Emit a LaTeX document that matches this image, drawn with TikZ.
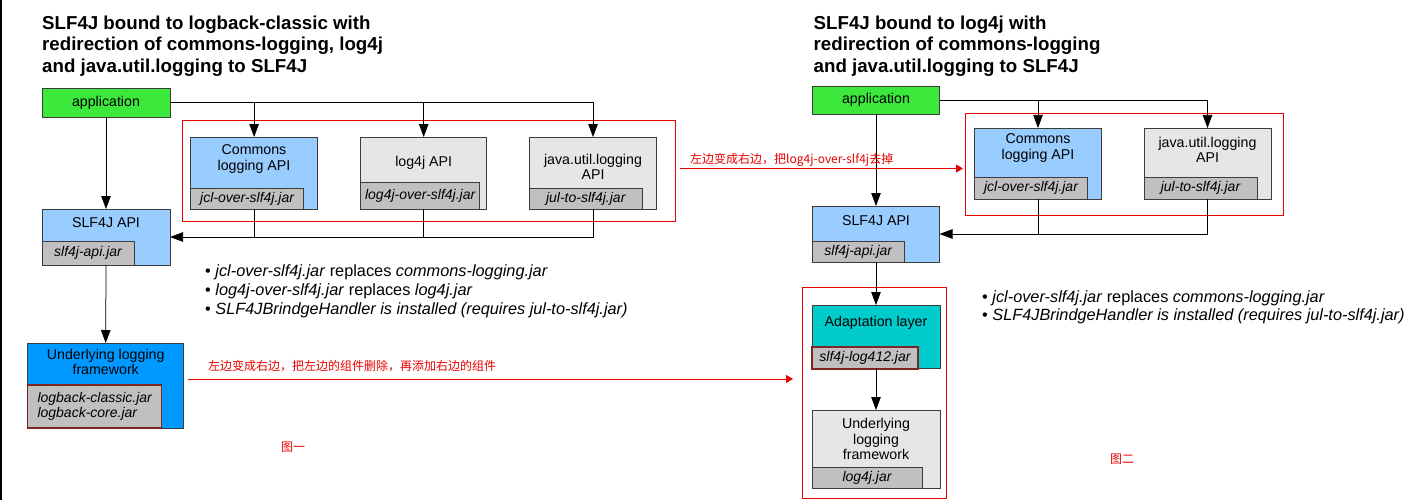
\documentclass[tikz,border=0pt]{standalone}
\usepackage{fontspec}
\setmainfont{Liberation Sans}
\newfontfamily\cjk{Noto Sans CJK SC}
\usetikzlibrary{arrows.meta}
\definecolor{appgreen}{RGB}{60,232,60}
\definecolor{lblue}{RGB}{153,204,255}
\definecolor{lgray}{RGB}{230,230,230}
\definecolor{jargray}{RGB}{192,192,192}
\definecolor{dblue}{RGB}{0,153,255}
\definecolor{adcyan}{RGB}{0,204,204}
\definecolor{edgegray}{RGB}{60,60,60}
\definecolor{jarred}{RGB}{128,36,36}
\definecolor{notered}{RGB}{235,0,0}
\begin{document}
\begin{tikzpicture}[x=1pt,y=-1pt,
  box/.style={draw=edgegray, line width=0.9pt, anchor=north west, inner sep=0pt, outer sep=0pt},
  jar/.style={box, fill=jargray, font=\fontsize{14}{15.5}\selectfont\itshape},
  redjar/.style={jar, draw=jarred, line width=1.4pt},
  lbl/.style={font=\fontsize{14.2}{15.5}\selectfont, align=center, inner sep=0pt},
  ttl/.style={font=\fontsize{18.7}{21}\selectfont\bfseries, anchor=base west, inner sep=0pt},
  bul/.style={font=\fontsize{16.3}{19}\selectfont, anchor=base west, inner sep=0pt},
  note/.style={font=\fontsize{12}{14}\selectfont\cjk, text=notered, inner sep=0pt},
  arr/.style={-{Triangle[length=13pt,width=9.5pt]}, line width=0.75pt},
  ln/.style={line width=0.75pt},
  redarr/.style={draw=notered, line width=0.9pt, -{Triangle[length=7pt,width=8pt]}},
  frame/.style={draw=notered, line width=1pt}
]
\fill[white] (0,0) rectangle (1404,500);
\useasboundingbox (0,0) rectangle (1404,500);
\draw[line width=1.6pt] (0.8,0) -- (0.8,500);

% ---------------- left diagram ----------------
\node[ttl] (t1a) at (42,29.5) {SLF4J bound to logback-classic with};
\node[ttl] (t1b) at (42,51) {redirection of commons-logging, log4j};
\node[ttl] (t1c) at (42,72.5) {and java.util.logging to SLF4J};

\draw[frame] (182.6,120.5) rectangle (675.4,221);

\node[box, fill=appgreen, minimum width=128pt, minimum height=29pt, lbl] (app1) at (42,88) {application};

\node[box, fill=lblue, minimum width=127pt, minimum height=72pt] (c1) at (190.6,137) {};
\node[lbl] (c1t) at (254,159) {Commons\\logging API};
\node[jar, minimum width=113pt, minimum height=21pt] (c1j) at (190.6,188) {jcl-over-slf4j.jar};

\node[box, fill=lgray, minimum width=126pt, minimum height=72pt] (l1) at (360.7,137) {};
\node[lbl] (l1t) at (423.7,163) {log4j API};
\node[jar, minimum width=119pt, minimum height=27pt] (l1j) at (360.7,182) {log4j-over-slf4j.jar};

\node[box, fill=lgray, minimum width=127pt, minimum height=72pt] (j1) at (529.5,137) {};
\node[lbl] (j1t) at (593,167) {java.util.logging\\API};
\node[jar, minimum width=112.5pt, minimum height=21pt] (j1j) at (529.5,188) {jul-to-slf4j.jar};

\node[box, fill=lblue, minimum width=128pt, minimum height=56pt] (s1) at (42,209) {};
\node[lbl] (s1t) at (106,223) {SLF4J API};
\node[jar, minimum width=92pt, minimum height=24pt] (s1j) at (42,241) {slf4j-api.jar};

\node[box, fill=dblue, minimum width=156pt, minimum height=85pt] (u1) at (27.7,343) {};
\node[lbl] (u1t) at (105.7,362) {Underlying logging\\framework};
\node[redjar, minimum width=134pt, minimum height=43pt, align=left] (u1j) at (27.7,385) {logback-classic.jar\\logback-core.jar};

\draw[ln] (app1.east) -- (app1.east -| j1.north);
\draw[arr] (app1.east -| c1.north) -- (c1.north);
\draw[arr] (app1.east -| l1.north) -- (l1.north);
\draw[arr] (app1.east -| j1.north) -- (j1.north);
\draw[arr] (app1.south) -- (s1.north);
\draw[ln] (c1.south) -- (c1.south |- s1.east);
\draw[ln] (l1.south) -- (l1.south |- s1.east);
\draw[arr] (j1.south) -- (j1.south |- s1.east) -- (s1.east);
\draw[arr] (s1.south) -- (u1.north);

\node[bul] (b1) at (205,276.5) {• \textit{jcl-over-slf4j.jar} replaces \textit{commons-logging.jar}};
\node[bul] (b2) at (205,295.5) {• \textit{log4j-over-slf4j.jar} replaces \textit{log4j.jar}};
\node[bul] (b3) at (205,314.5) {• \textit{SLF4JBrindgeHandler is installed (requires jul-to-slf4j.jar)}};

\node[note, anchor=west] (n1) at (208,366) {左边变成右边，把左边的组件删除，再添加右边的组件};
\node[note] (fig1) at (293,447) {图一};

% ---------------- right diagram ----------------
\node[ttl] (t2a) at (813.5,29.5) {SLF4J bound to log4j with};
\node[ttl] (t2b) at (813.5,51) {redirection of commons-logging};
\node[ttl] (t2c) at (813.5,72.5) {and java.util.logging to SLF4J};

\draw[frame] (965,113.3) rectangle (1283,215);
\draw[frame] (802,287.5) rectangle (946,498);

\node[box, fill=appgreen, minimum width=127pt, minimum height=28pt, lbl] (app2) at (812.5,86) {application};

\node[box, fill=lblue, minimum width=127pt, minimum height=71pt] (c2) at (974.5,128) {};
\node[lbl] (c2t) at (1038,148) {Commons\\logging API};
\node[jar, minimum width=113pt, minimum height=22pt] (c2j) at (974.5,177) {jcl-over-slf4j.jar};

\node[box, fill=lgray, minimum width=127pt, minimum height=71pt] (j2) at (1144,128) {};
\node[lbl] (j2t) at (1207.5,150) {java.util.logging\\API};
\node[jar, minimum width=113pt, minimum height=22pt] (j2j) at (1144,177) {jul-to-slf4j.jar};

\node[box, fill=lblue, minimum width=127pt, minimum height=56pt] (s2) at (812.5,206) {};
\node[lbl] (s2t) at (876,221) {SLF4J API};
\node[jar, minimum width=91.5pt, minimum height=21pt] (s2j) at (812.5,241) {slf4j-api.jar};

\node[box, fill=adcyan, minimum width=128pt, minimum height=63pt] (ad2) at (812,305) {};
\node[lbl] (ad2t) at (876,323) {Adaptation layer};
\node[redjar, minimum width=106pt, minimum height=22pt] (ad2j) at (812,347) {slf4j-log412.jar};

\node[box, fill=lgray, minimum width=128pt, minimum height=78pt] (u2) at (812,410) {};
\node[lbl] (u2t) at (876,439) {Underlying\\logging\\framework};
\node[jar, minimum width=110pt, minimum height=21pt] (u2j) at (812,467) {log4j.jar};

\draw[ln] (app2.east) -- (app2.east -| j2.north);
\draw[arr] (app2.east -| c2.north) -- (c2.north);
\draw[arr] (app2.east -| j2.north) -- (j2.north);
\draw[arr] (app2.south) -- (s2.north);
\draw[ln] (c2.south) -- (c2.south |- s2.east);
\draw[arr] (j2.south) -- (j2.south |- s2.east) -- (s2.east);
\draw[arr] (s2.south) -- (ad2.north);
\draw[arr] (ad2.south) -- (u2.north);

\node[bul] (b4) at (982,302.5) {• \textit{jcl-over-slf4j.jar} replaces \textit{commons-logging.jar}};
\node[bul] (b5) at (982,320.5) {• \textit{SLF4JBrindgeHandler is installed (requires jul-to-slf4j.jar)}};

\node[note, anchor=west] (n2) at (690,160) {左边变成右边，把log4j-over-slf4j去掉};
\node[note] (fig2) at (1122,459) {图二};

% ---------------- red connectors ----------------
\coordinate (r1s) at (187.5,379);
\coordinate (r1e) at (793,379);
\coordinate (r2s) at (679.5,168.5);
\coordinate (r2e) at (963,168.5);
\draw[redarr] (r1s) -- (r1e);
\draw[redarr] (r2s) -- (r2e);
\end{tikzpicture}
\end{document}
